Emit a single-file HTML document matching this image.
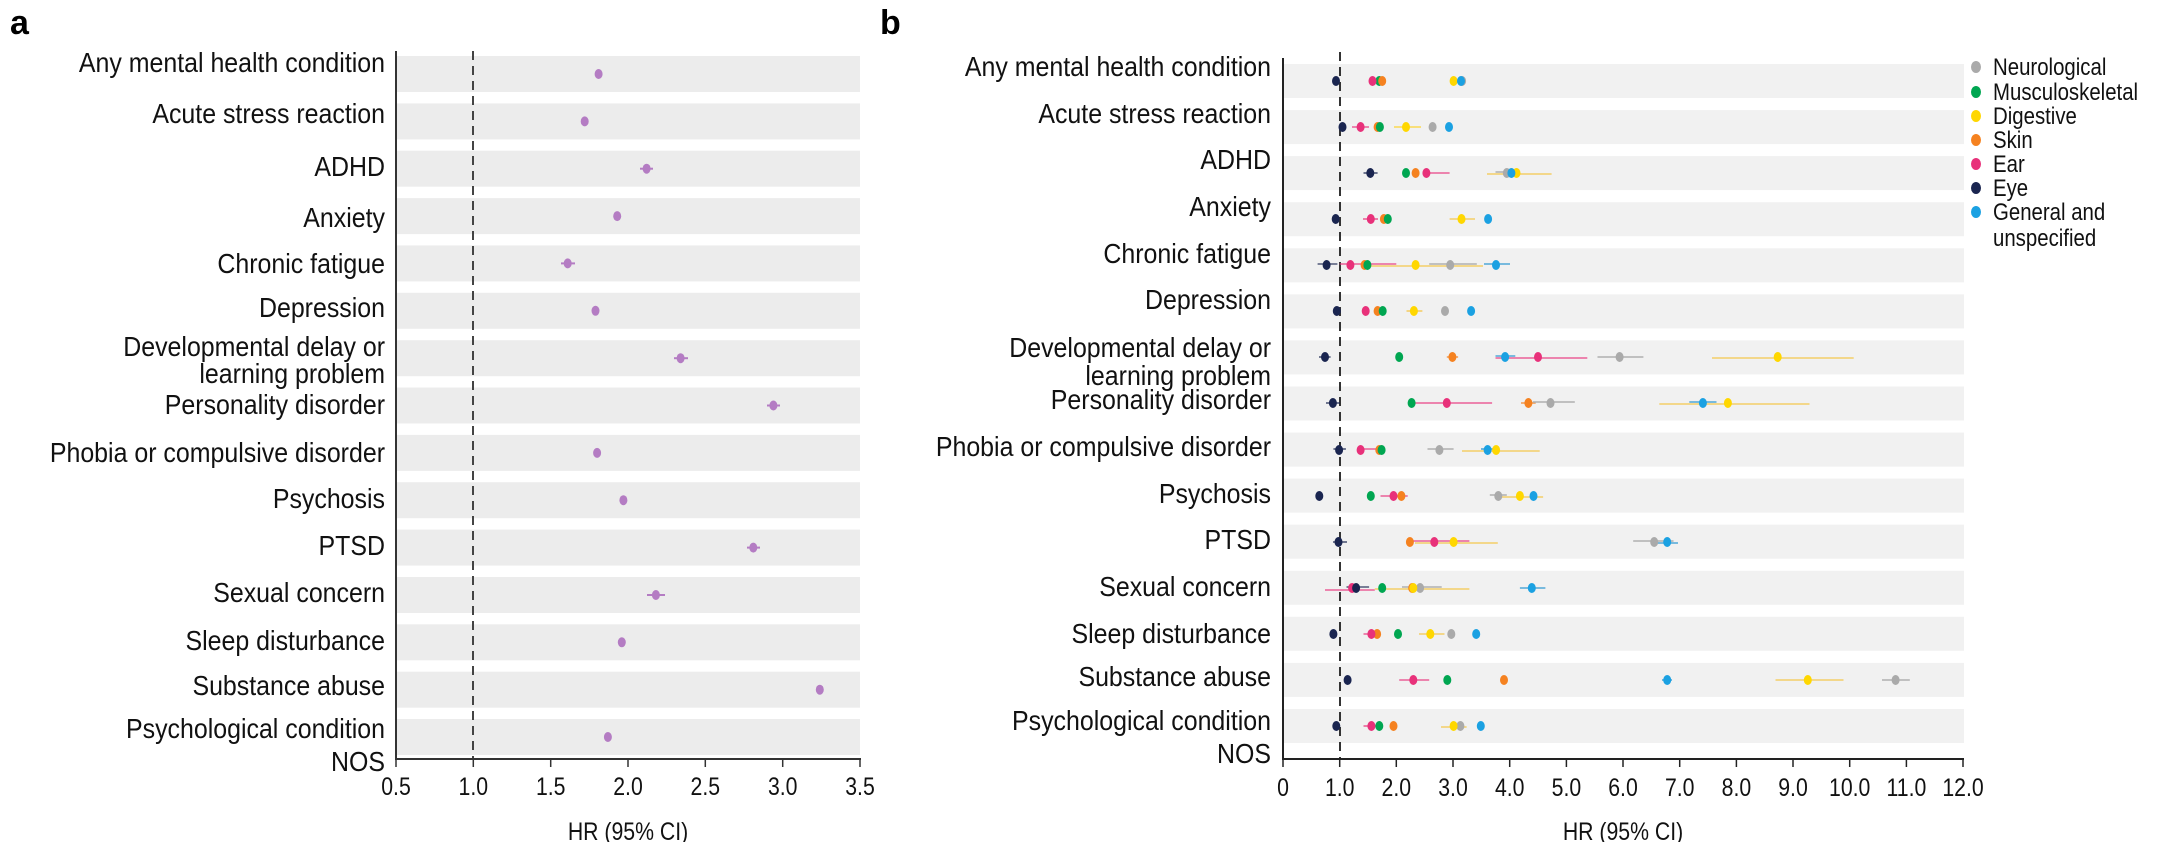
<!DOCTYPE html>
<html><head><meta charset="utf-8"><style>
html,body{margin:0;padding:0;background:#fff}
svg{display:block;font-family:"Liberation Sans",sans-serif}
.lb{font-size:28px;fill:#111;text-anchor:end}
.tk{font-size:25px;fill:#111;text-anchor:middle}
.ci{stroke-width:1.6;opacity:.75}
</style></head><body>
<svg width="2167" height="842" viewBox="0 0 2167 842" xmlns="http://www.w3.org/2000/svg">
<text x="10" y="34" font-size="34" font-weight="bold" fill="#000">a</text>
<text x="880" y="34" font-size="34" font-weight="bold" fill="#000">b</text>
<!-- Panel a -->
<g fill="#ececec">
<rect x="397" y="56" width="463" height="36"/><rect x="397" y="103.4" width="463" height="36"/><rect x="397" y="150.7" width="463" height="36"/><rect x="397" y="198.1" width="463" height="36"/><rect x="397" y="245.4" width="463" height="36"/><rect x="397" y="292.8" width="463" height="36"/><rect x="397" y="340.2" width="463" height="36"/><rect x="397" y="387.5" width="463" height="36"/><rect x="397" y="434.9" width="463" height="36"/><rect x="397" y="482.2" width="463" height="36"/><rect x="397" y="529.6" width="463" height="36"/><rect x="397" y="577" width="463" height="36"/><rect x="397" y="624.3" width="463" height="36"/><rect x="397" y="671.7" width="463" height="36"/><rect x="397" y="719" width="463" height="36"/>
</g>
<line x1="473" y1="51" x2="473" y2="759" stroke="#444" stroke-width="2" stroke-dasharray="9,6"/>
<line x1="396" y1="51" x2="396" y2="760" stroke="#333" stroke-width="2"/>
<line x1="395" y1="759" x2="861" y2="759" stroke="#333" stroke-width="2"/>
<g stroke="#333" stroke-width="1.5">
<line x1="396" y1="759" x2="396" y2="767"/><line x1="473.3" y1="759" x2="473.3" y2="767"/><line x1="550.7" y1="759" x2="550.7" y2="767"/><line x1="628" y1="759" x2="628" y2="767"/><line x1="705.3" y1="759" x2="705.3" y2="767"/><line x1="782.7" y1="759" x2="782.7" y2="767"/><line x1="860" y1="759" x2="860" y2="767"/>
</g>
<g class="tk">
<g transform="translate(396,0) scale(0.85,1)"><text x="0" y="795">0.5</text></g>
<g transform="translate(473.3,0) scale(0.85,1)"><text x="0" y="795">1.0</text></g>
<g transform="translate(550.7,0) scale(0.85,1)"><text x="0" y="795">1.5</text></g>
<g transform="translate(628,0) scale(0.85,1)"><text x="0" y="795">2.0</text></g>
<g transform="translate(705.3,0) scale(0.85,1)"><text x="0" y="795">2.5</text></g>
<g transform="translate(782.7,0) scale(0.85,1)"><text x="0" y="795">3.0</text></g>
<g transform="translate(860,0) scale(0.85,1)"><text x="0" y="795">3.5</text></g>
<g transform="translate(628,0) scale(0.85,1)"><text x="0" y="840">HR (95% CI)</text></g>
</g>
<g stroke="#b47cc3" stroke-width="2">
<line x1="561" y1="263.4" x2="575" y2="263.4"/><line x1="674" y1="358.2" x2="688" y2="358.2"/><line x1="767" y1="405.5" x2="780" y2="405.5"/><line x1="747" y1="547.6" x2="760" y2="547.6"/><line x1="647" y1="595" x2="665" y2="595"/><line x1="640" y1="168.7" x2="653" y2="168.7"/>
</g>
<g fill="#b47cc3">
<ellipse cx="598.6" cy="74" rx="4" ry="5"/><ellipse cx="584.7" cy="121.4" rx="4" ry="5"/><ellipse cx="646.6" cy="168.7" rx="4" ry="5"/><ellipse cx="617.2" cy="216.1" rx="4" ry="5"/><ellipse cx="567.7" cy="263.4" rx="4" ry="5"/><ellipse cx="595.5" cy="310.8" rx="4" ry="5"/><ellipse cx="680.6" cy="358.2" rx="4" ry="5"/><ellipse cx="773.4" cy="405.5" rx="4" ry="5"/><ellipse cx="597.1" cy="452.9" rx="4" ry="5"/><ellipse cx="623.4" cy="500.2" rx="4" ry="5"/><ellipse cx="753.3" cy="547.6" rx="4" ry="5"/><ellipse cx="655.9" cy="595" rx="4" ry="5"/><ellipse cx="621.8" cy="642.3" rx="4" ry="5"/><ellipse cx="819.8" cy="689.7" rx="4" ry="5"/><ellipse cx="607.9" cy="737" rx="4" ry="5"/>
</g>
<g class="lb" transform="translate(385,0) scale(0.89,1)">
<text x="0" y="72">Any mental health condition</text>
<text x="0" y="123">Acute stress reaction</text>
<text x="0" y="176">ADHD</text>
<text x="0" y="227">Anxiety</text>
<text x="0" y="273">Chronic fatigue</text>
<text x="0" y="317">Depression</text>
<text x="0" y="356">Developmental delay or</text>
<text x="0" y="383">learning problem</text>
<text x="0" y="414">Personality disorder</text>
<text x="0" y="462">Phobia or compulsive disorder</text>
<text x="0" y="508">Psychosis</text>
<text x="0" y="555">PTSD</text>
<text x="0" y="602">Sexual concern</text>
<text x="0" y="650">Sleep disturbance</text>
<text x="0" y="695">Substance abuse</text>
<text x="0" y="738">Psychological condition</text>
<text x="0" y="771">NOS</text>
</g>
<!-- Panel b -->
<g fill="#f1f1f1">
<rect x="1284" y="64" width="680" height="34"/><rect x="1284" y="110.1" width="680" height="34"/><rect x="1284" y="156.1" width="680" height="34"/><rect x="1284" y="202.2" width="680" height="34"/><rect x="1284" y="248.3" width="680" height="34"/><rect x="1284" y="294.4" width="680" height="34"/><rect x="1284" y="340.4" width="680" height="34"/><rect x="1284" y="386.5" width="680" height="34"/><rect x="1284" y="432.6" width="680" height="34"/><rect x="1284" y="478.6" width="680" height="34"/><rect x="1284" y="524.7" width="680" height="34"/><rect x="1284" y="570.8" width="680" height="34"/><rect x="1284" y="616.8" width="680" height="34"/><rect x="1284" y="662.9" width="680" height="34"/><rect x="1284" y="709" width="680" height="34"/>
</g>
<line x1="1340" y1="52" x2="1340" y2="759" stroke="#333" stroke-width="2" stroke-dasharray="9,6"/>
<line x1="1283" y1="58" x2="1283" y2="760" stroke="#222" stroke-width="2"/>
<line x1="1282" y1="759" x2="1964" y2="759" stroke="#222" stroke-width="2"/>
<g stroke="#222" stroke-width="1.5">
<line x1="1283" y1="759" x2="1283" y2="767"/><line x1="1339.7" y1="759" x2="1339.7" y2="767"/><line x1="1396.3" y1="759" x2="1396.3" y2="767"/><line x1="1453" y1="759" x2="1453" y2="767"/><line x1="1509.7" y1="759" x2="1509.7" y2="767"/><line x1="1566.4" y1="759" x2="1566.4" y2="767"/><line x1="1623" y1="759" x2="1623" y2="767"/><line x1="1679.7" y1="759" x2="1679.7" y2="767"/><line x1="1736.4" y1="759" x2="1736.4" y2="767"/><line x1="1793" y1="759" x2="1793" y2="767"/><line x1="1849.7" y1="759" x2="1849.7" y2="767"/><line x1="1906.4" y1="759" x2="1906.4" y2="767"/><line x1="1963" y1="759" x2="1963" y2="767"/>
</g>
<g class="tk">
<g transform="translate(1283,0) scale(0.85,1)"><text x="0" y="796">0</text></g>
<g transform="translate(1339.7,0) scale(0.85,1)"><text x="0" y="796">1.0</text></g>
<g transform="translate(1396.3,0) scale(0.85,1)"><text x="0" y="796">2.0</text></g>
<g transform="translate(1453,0) scale(0.85,1)"><text x="0" y="796">3.0</text></g>
<g transform="translate(1509.7,0) scale(0.85,1)"><text x="0" y="796">4.0</text></g>
<g transform="translate(1566.4,0) scale(0.85,1)"><text x="0" y="796">5.0</text></g>
<g transform="translate(1623,0) scale(0.85,1)"><text x="0" y="796">6.0</text></g>
<g transform="translate(1679.7,0) scale(0.85,1)"><text x="0" y="796">7.0</text></g>
<g transform="translate(1736.4,0) scale(0.85,1)"><text x="0" y="796">8.0</text></g>
<g transform="translate(1793,0) scale(0.85,1)"><text x="0" y="796">9.0</text></g>
<g transform="translate(1849.7,0) scale(0.85,1)"><text x="0" y="796">10.0</text></g>
<g transform="translate(1906.4,0) scale(0.85,1)"><text x="0" y="796">11.0</text></g>
<g transform="translate(1963,0) scale(0.85,1)"><text x="0" y="796">12.0</text></g>
<g transform="translate(1623,0) scale(0.85,1)"><text x="0" y="840">HR (95% CI)</text></g>
</g>
<g class="lb" transform="translate(1271,0) scale(0.89,1)">
<text x="0" y="76">Any mental health condition</text>
<text x="0" y="123">Acute stress reaction</text>
<text x="0" y="169">ADHD</text>
<text x="0" y="216">Anxiety</text>
<text x="0" y="263">Chronic fatigue</text>
<text x="0" y="309">Depression</text>
<text x="0" y="357">Developmental delay or</text>
<text x="0" y="385">learning problem</text>
<text x="0" y="409">Personality disorder</text>
<text x="0" y="456">Phobia or compulsive disorder</text>
<text x="0" y="503">Psychosis</text>
<text x="0" y="549">PTSD</text>
<text x="0" y="596">Sexual concern</text>
<text x="0" y="643">Sleep disturbance</text>
<text x="0" y="686">Substance abuse</text>
<text x="0" y="730">Psychological condition</text>
<text x="0" y="763">NOS</text>
</g>
<!-- CI lines -->
<g class="ci">
<line x1="1352" y1="127" x2="1369" y2="127" stroke="#e8317a"/><line x1="1394" y1="127" x2="1421" y2="127" stroke="#ffd21f"/>
<line x1="1363.5" y1="173" x2="1377.6" y2="173" stroke="#1a2550"/><line x1="1426" y1="173" x2="1449.6" y2="173" stroke="#e8317a"/><line x1="1495.5" y1="172" x2="1518" y2="172" stroke="#999"/><line x1="1487" y1="174" x2="1551.6" y2="174" stroke="#f5c33b"/>
<line x1="1363" y1="219" x2="1378" y2="219" stroke="#e8317a"/><line x1="1449.6" y1="219" x2="1475" y2="219" stroke="#f5c33b"/>
<line x1="1317.6" y1="264" x2="1337.4" y2="264" stroke="#1a2550"/><line x1="1339.7" y1="264" x2="1396.3" y2="264" stroke="#e8317a"/><line x1="1366.3" y1="266" x2="1483" y2="266" stroke="#f5c33b"/><line x1="1429.2" y1="264" x2="1476.8" y2="264" stroke="#999"/><line x1="1484" y1="264" x2="1510" y2="264" stroke="#1b8fd0"/>
<line x1="1406.5" y1="311" x2="1422.4" y2="311" stroke="#f5c33b"/>
<line x1="1319" y1="357" x2="1330.6" y2="357" stroke="#1a2550"/><line x1="1446.8" y1="357" x2="1458.1" y2="357" stroke="#f58220"/><line x1="1495.5" y1="356" x2="1515.3" y2="356" stroke="#1b8fd0"/><line x1="1495.5" y1="358" x2="1587.3" y2="358" stroke="#e8317a"/><line x1="1597.5" y1="357" x2="1643.4" y2="357" stroke="#999"/><line x1="1712" y1="358" x2="1853.7" y2="358" stroke="#f5c33b"/>
<line x1="1326" y1="403" x2="1340" y2="403" stroke="#1a2550"/><line x1="1411.6" y1="403" x2="1492.1" y2="403" stroke="#e8317a"/><line x1="1521" y1="403" x2="1535.7" y2="403" stroke="#f58220"/><line x1="1532.9" y1="402" x2="1574.8" y2="402" stroke="#999"/><line x1="1689.3" y1="402" x2="1716.5" y2="402" stroke="#1b8fd0"/><line x1="1659.3" y1="404" x2="1809.5" y2="404" stroke="#f5c33b"/>
<line x1="1333.4" y1="449" x2="1345.9" y2="449" stroke="#1a2550"/><line x1="1360.6" y1="449" x2="1377.6" y2="449" stroke="#e8317a"/><line x1="1427.5" y1="449" x2="1453.6" y2="449" stroke="#999"/><line x1="1481" y1="449" x2="1493" y2="449" stroke="#1b8fd0"/><line x1="1462" y1="451" x2="1539.7" y2="451" stroke="#f5c33b"/>
<line x1="1380.5" y1="496" x2="1407.7" y2="496" stroke="#e8317a"/><line x1="1489.8" y1="495" x2="1506.8" y2="495" stroke="#999"/><line x1="1501.2" y1="497" x2="1543.1" y2="497" stroke="#f5c33b"/>
<line x1="1333" y1="542" x2="1347" y2="542" stroke="#1a2550"/><line x1="1409.4" y1="541" x2="1469.4" y2="541" stroke="#e8317a"/><line x1="1415" y1="543" x2="1497.8" y2="543" stroke="#f5c33b"/><line x1="1633.2" y1="541" x2="1673.5" y2="541" stroke="#999"/><line x1="1656.5" y1="543" x2="1678" y2="543" stroke="#1b8fd0"/>
<line x1="1325" y1="590" x2="1374.8" y2="590" stroke="#e8317a"/><line x1="1346.5" y1="587" x2="1369.1" y2="587" stroke="#1a2550"/><line x1="1402" y1="587" x2="1441.7" y2="587" stroke="#999"/><line x1="1374.8" y1="589" x2="1469.4" y2="589" stroke="#f5c33b"/><line x1="1519.9" y1="588" x2="1545.4" y2="588" stroke="#1b8fd0"/>
<line x1="1363.5" y1="634" x2="1380.5" y2="634" stroke="#e8317a"/><line x1="1419" y1="634" x2="1444.5" y2="634" stroke="#f5c33b"/>
<line x1="1399.2" y1="680" x2="1429.2" y2="680" stroke="#e8317a"/><line x1="1662" y1="680" x2="1672" y2="680" stroke="#1b8fd0"/><line x1="1775.5" y1="680" x2="1843.5" y2="680" stroke="#f5c33b"/><line x1="1882" y1="680" x2="1909.8" y2="680" stroke="#999"/>
<line x1="1363.5" y1="726" x2="1379.3" y2="726" stroke="#e8317a"/><line x1="1441" y1="727" x2="1466.6" y2="727" stroke="#f5c33b"/>
</g>
<!-- dots -->
<g>
<ellipse cx="1462.1" cy="81" rx="4" ry="5" fill="#aaa"/><ellipse cx="1379.3" cy="81" rx="4" ry="5" fill="#00a651"/><ellipse cx="1453.6" cy="81" rx="4" ry="5" fill="#ffd700"/><ellipse cx="1382.2" cy="81" rx="4" ry="5" fill="#f58220"/><ellipse cx="1372.5" cy="81" rx="4" ry="5" fill="#e8317a"/><ellipse cx="1336" cy="81" rx="4" ry="5" fill="#1a2550"/><ellipse cx="1461" cy="81" rx="4" ry="5" fill="#1ba1e2"/>
<ellipse cx="1432.6" cy="127" rx="4" ry="5" fill="#aaa"/><ellipse cx="1377.6" cy="127" rx="4" ry="5" fill="#f58220"/><ellipse cx="1379.9" cy="127" rx="4" ry="5" fill="#00a651"/><ellipse cx="1406" cy="127" rx="4" ry="5" fill="#ffd700"/><ellipse cx="1360.6" cy="127" rx="4" ry="5" fill="#e8317a"/><ellipse cx="1342.5" cy="127" rx="4" ry="5" fill="#1a2550"/><ellipse cx="1449" cy="127" rx="4" ry="5" fill="#1ba1e2"/>
<ellipse cx="1506.8" cy="173" rx="4" ry="5" fill="#aaa"/><ellipse cx="1406" cy="173" rx="4" ry="5" fill="#00a651"/><ellipse cx="1516.5" cy="173" rx="4" ry="5" fill="#ffd700"/><ellipse cx="1415.6" cy="173" rx="4" ry="5" fill="#f58220"/><ellipse cx="1426.4" cy="173" rx="4" ry="5" fill="#e8317a"/><ellipse cx="1370.3" cy="173" rx="4" ry="5" fill="#1a2550"/><ellipse cx="1511.4" cy="173" rx="4" ry="5" fill="#1ba1e2"/>
<ellipse cx="1383.9" cy="219" rx="4" ry="5" fill="#f58220"/><ellipse cx="1387.8" cy="219" rx="4" ry="5" fill="#00a651"/><ellipse cx="1461.5" cy="219" rx="4" ry="5" fill="#ffd700"/><ellipse cx="1370.8" cy="219" rx="4" ry="5" fill="#e8317a"/><ellipse cx="1335.7" cy="219" rx="4" ry="5" fill="#1a2550"/><ellipse cx="1488.1" cy="219" rx="4" ry="5" fill="#1ba1e2"/>
<ellipse cx="1450.2" cy="265" rx="4" ry="5" fill="#aaa"/><ellipse cx="1364.6" cy="265" rx="4" ry="5" fill="#f58220"/><ellipse cx="1367.4" cy="265" rx="4" ry="5" fill="#00a651"/><ellipse cx="1415.6" cy="265" rx="4" ry="5" fill="#ffd700"/><ellipse cx="1350.4" cy="265" rx="4" ry="5" fill="#e8317a"/><ellipse cx="1326.6" cy="265" rx="4" ry="5" fill="#1a2550"/><ellipse cx="1496" cy="265" rx="4" ry="5" fill="#1ba1e2"/>
<ellipse cx="1445" cy="311" rx="4" ry="5" fill="#aaa"/><ellipse cx="1377.6" cy="311" rx="4" ry="5" fill="#f58220"/><ellipse cx="1382.7" cy="311" rx="4" ry="5" fill="#00a651"/><ellipse cx="1413.9" cy="311" rx="4" ry="5" fill="#ffd700"/><ellipse cx="1365.7" cy="311" rx="4" ry="5" fill="#e8317a"/><ellipse cx="1336.8" cy="311" rx="4" ry="5" fill="#1a2550"/><ellipse cx="1471.1" cy="311" rx="4" ry="5" fill="#1ba1e2"/>
<ellipse cx="1619.6" cy="357" rx="4" ry="5" fill="#aaa"/><ellipse cx="1399.2" cy="357" rx="4" ry="5" fill="#00a651"/><ellipse cx="1777.7" cy="357" rx="4" ry="5" fill="#ffd700"/><ellipse cx="1452.4" cy="357" rx="4" ry="5" fill="#f58220"/><ellipse cx="1505.1" cy="357" rx="4" ry="5" fill="#1ba1e2"/><ellipse cx="1538" cy="357" rx="4" ry="5" fill="#e8317a"/><ellipse cx="1325" cy="357" rx="4" ry="5" fill="#1a2550"/>
<ellipse cx="1550.5" cy="403" rx="4" ry="5" fill="#aaa"/><ellipse cx="1411.6" cy="403" rx="4" ry="5" fill="#00a651"/><ellipse cx="1727.9" cy="403" rx="4" ry="5" fill="#ffd700"/><ellipse cx="1528.4" cy="403" rx="4" ry="5" fill="#f58220"/><ellipse cx="1446.8" cy="403" rx="4" ry="5" fill="#e8317a"/><ellipse cx="1332.9" cy="403" rx="4" ry="5" fill="#1a2550"/><ellipse cx="1702.9" cy="403" rx="4" ry="5" fill="#1ba1e2"/>
<ellipse cx="1439.4" cy="450" rx="4" ry="5" fill="#aaa"/><ellipse cx="1379.3" cy="450" rx="4" ry="5" fill="#f58220"/><ellipse cx="1381.6" cy="450" rx="4" ry="5" fill="#00a651"/><ellipse cx="1487.6" cy="450" rx="4" ry="5" fill="#1ba1e2"/><ellipse cx="1496.1" cy="450" rx="4" ry="5" fill="#ffd700"/><ellipse cx="1360.6" cy="450" rx="4" ry="5" fill="#e8317a"/><ellipse cx="1339.1" cy="450" rx="4" ry="5" fill="#1a2550"/>
<ellipse cx="1498.3" cy="496" rx="4" ry="5" fill="#aaa"/><ellipse cx="1370.8" cy="496" rx="4" ry="5" fill="#00a651"/><ellipse cx="1519.9" cy="496" rx="4" ry="5" fill="#ffd700"/><ellipse cx="1401.4" cy="496" rx="4" ry="5" fill="#f58220"/><ellipse cx="1393.5" cy="496" rx="4" ry="5" fill="#e8317a"/><ellipse cx="1319.3" cy="496" rx="4" ry="5" fill="#1a2550"/><ellipse cx="1533.5" cy="496" rx="4" ry="5" fill="#1ba1e2"/>
<ellipse cx="1654.2" cy="542" rx="4" ry="5" fill="#aaa"/><ellipse cx="1409.9" cy="542" rx="4" ry="5" fill="#f58220"/><ellipse cx="1453.6" cy="542" rx="4" ry="5" fill="#ffd700"/><ellipse cx="1434.3" cy="542" rx="4" ry="5" fill="#e8317a"/><ellipse cx="1338.5" cy="542" rx="4" ry="5" fill="#1a2550"/><ellipse cx="1667.2" cy="542" rx="4" ry="5" fill="#1ba1e2"/>
<ellipse cx="1420.1" cy="588" rx="4" ry="5" fill="#aaa"/><ellipse cx="1382.2" cy="588" rx="4" ry="5" fill="#00a651"/><ellipse cx="1412.2" cy="588" rx="4" ry="5" fill="#f58220"/><ellipse cx="1413.3" cy="588" rx="4" ry="5" fill="#ffd700"/><ellipse cx="1352.1" cy="588" rx="4" ry="5" fill="#e8317a"/><ellipse cx="1356.1" cy="588" rx="4" ry="5" fill="#1a2550"/><ellipse cx="1531.8" cy="588" rx="4" ry="5" fill="#1ba1e2"/>
<ellipse cx="1451.3" cy="634" rx="4" ry="5" fill="#aaa"/><ellipse cx="1398" cy="634" rx="4" ry="5" fill="#00a651"/><ellipse cx="1430.3" cy="634" rx="4" ry="5" fill="#ffd700"/><ellipse cx="1377.1" cy="634" rx="4" ry="5" fill="#f58220"/><ellipse cx="1371.4" cy="634" rx="4" ry="5" fill="#e8317a"/><ellipse cx="1333.4" cy="634" rx="4" ry="5" fill="#1a2550"/><ellipse cx="1476.2" cy="634" rx="4" ry="5" fill="#1ba1e2"/>
<ellipse cx="1895.6" cy="680" rx="4" ry="5" fill="#aaa"/><ellipse cx="1447.3" cy="680" rx="4" ry="5" fill="#00a651"/><ellipse cx="1807.8" cy="680" rx="4" ry="5" fill="#ffd700"/><ellipse cx="1504" cy="680" rx="4" ry="5" fill="#f58220"/><ellipse cx="1413.3" cy="680" rx="4" ry="5" fill="#e8317a"/><ellipse cx="1347.6" cy="680" rx="4" ry="5" fill="#1a2550"/><ellipse cx="1667.2" cy="680" rx="4" ry="5" fill="#1ba1e2"/>
<ellipse cx="1460.4" cy="726" rx="4" ry="5" fill="#aaa"/><ellipse cx="1379.3" cy="726" rx="4" ry="5" fill="#00a651"/><ellipse cx="1453.6" cy="726" rx="4" ry="5" fill="#ffd700"/><ellipse cx="1393.5" cy="726" rx="4" ry="5" fill="#f58220"/><ellipse cx="1371.4" cy="726" rx="4" ry="5" fill="#e8317a"/><ellipse cx="1336.3" cy="726" rx="4" ry="5" fill="#1a2550"/><ellipse cx="1480.8" cy="726" rx="4" ry="5" fill="#1ba1e2"/>
</g>
<!-- legend -->
<ellipse cx="1976" cy="67" rx="5" ry="6" fill="#aaa"/>
<ellipse cx="1976" cy="92" rx="5" ry="6" fill="#00a651"/>
<ellipse cx="1976" cy="116" rx="5" ry="6" fill="#ffd700"/>
<ellipse cx="1976" cy="140" rx="5" ry="6" fill="#f58220"/>
<ellipse cx="1976" cy="164" rx="5" ry="6" fill="#e8317a"/>
<ellipse cx="1976" cy="188" rx="5" ry="6" fill="#1a2550"/>
<ellipse cx="1976" cy="212" rx="5" ry="6" fill="#1ba1e2"/>
<g font-size="24" fill="#111" transform="translate(1993,0) scale(0.85,1)">
<text x="0" y="75">Neurological</text>
<text x="0" y="100">Musculoskeletal</text>
<text x="0" y="124">Digestive</text>
<text x="0" y="148">Skin</text>
<text x="0" y="172">Ear</text>
<text x="0" y="196">Eye</text>
<text x="0" y="220">General and</text>
<text x="0" y="246">unspecified</text>
</g>
</svg>
</body></html>
